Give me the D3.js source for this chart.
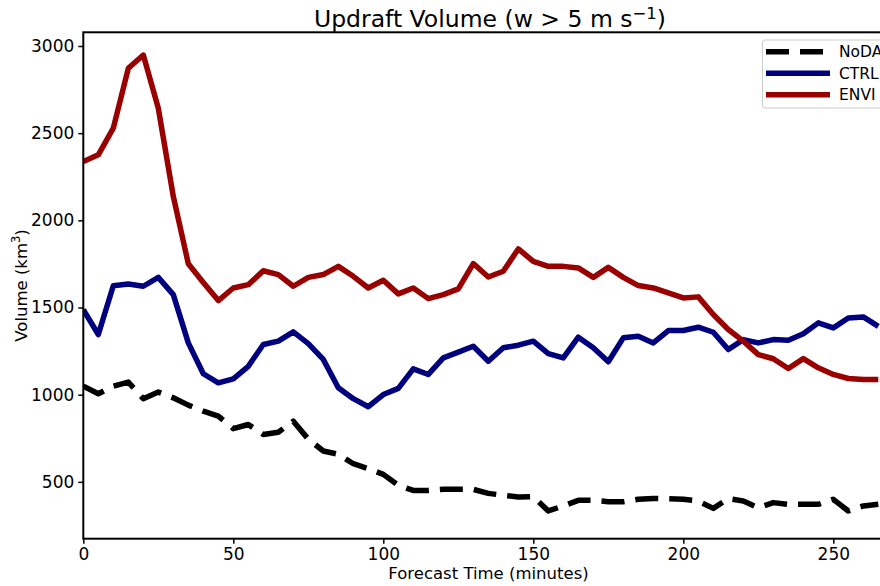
<!DOCTYPE html>
<html>
<head>
<meta charset="utf-8">
<script src="https://cdn.jsdelivr.net/npm/d3@7"></script>
<style>
	body{margin:0;background:#fff;}
	svg{display:block;font-family:'DejaVu Sans',sans-serif;}
</style>
</head>
<body>
<div id="chart"></div>
<script>

let times = [0,5,10,15,20,25,30,35,40,45,50,55,60,65,70,75,80,85,90,95,100,105,110,115,120,125,130,135,140,145,150,155,160,165,170,175,180,185,190,195,200,205,210,215,220,225,230,235,240,245,250,255,260,265]

let noda = [1049,1005,1049,1072,977,1015,982,940,906,877,805,829,772,785,848,745,677,658,604,576,543,480,451,451,457,457,457,434,423,413,415,333,362,394,394,386,386,400,405,403,400,390,348,404,390,352,381,371,371,371,400,333,362,371]

let ctrl = [1488,1345,1625,1635,1622,1673,1574,1297,1120,1068,1091,1163,1288,1307,1360,1293,1202,1040,977,931,1001,1036,1148,1116,1211,1244,1278,1192,1269,1284,1307,1236,1211,1330,1269,1189,1326,1335,1297,1368,1368,1387,1358,1259,1316,1297,1316,1312,1349,1412,1383,1440,1446,1392]

let envi = [2337,2376,2529,2872,2948,2643,2137,1751,1644,1540,1612,1631,1711,1689,1622,1673,1689,1736,1679,1612,1656,1578,1612,1551,1574,1607,1752,1675,1708,1836,1765,1736,1736,1727,1673,1730,1673,1626,1612,1584,1555,1561,1460,1374,1307,1230,1206,1150,1207,1154,1116,1093,1087,1087]

let xTicks = [0,50,100,150,200,250]
let yTicks = [500,1000,1500,2000,2500,3000]

let seriesNames = ['NoDA','CTRL','ENVI']
let seriesColours = ['#000000','#00007f','#990000']
let seriesDash = ['23,11',null,null]

function init(){
	let width = 880, height = 586
	let left = 83.3, top = 32.3, bottom = 538.7, right = 938.3

	let svg = d3.select('#chart').append('svg').attr('width',width).attr('height',height)

	let x = d3.scaleLinear().domain([0,285]).range([left,right])
	let y = d3.scaleLinear().domain([174,3078.5]).range([bottom,top])

	svg.append('clipPath').attr('id','plotclip')
		.append('rect').attr('x',left).attr('y',top).attr('width',right-left).attr('height',bottom-top)

	let allSeries = [noda,ctrl,envi]

	let line = d3.line()
		.x(function(d,i){return x(times[i])})
		.y(function(d){return y(d)})

	allSeries.forEach(function(s,i){
		svg.append('path')
			.datum(s)
			.attr('d',line)
			.attr('fill','none')
			.attr('stroke',seriesColours[i])
			.attr('stroke-width',5.5)
			.attr('stroke-linejoin','round')
			.attr('stroke-dasharray',seriesDash[i])
			.attr('clip-path','url(#plotclip)')
	})

	let xAxis = svg.append('g')
		.attr('transform','translate(0,'+bottom+')')
		.call(d3.axisBottom(x).tickValues(xTicks).tickFormat(d3.format('d')).tickSize(5).tickPadding(4).tickSizeOuter(0))
	let yAxis = svg.append('g')
		.attr('transform','translate('+left+',0)')
		.call(d3.axisLeft(y).tickValues(yTicks).tickFormat(d3.format('d')).tickSize(5).tickPadding(4).tickSizeOuter(0))

	;[xAxis,yAxis].forEach(function(a){
		a.select('.domain').remove()
		a.selectAll('line').attr('stroke','#000').attr('stroke-width',1.5)
		a.selectAll('text').attr('font-family','DejaVu Sans').attr('font-size',17).attr('fill','#000')
	})

	// frame
	svg.append('rect')
		.attr('x',left).attr('y',top).attr('width',right-left).attr('height',bottom-top)
		.attr('fill','none').attr('stroke','#000').attr('stroke-width',2)

	let title = svg.append('text')
		.attr('x',490).attr('y',26.5).attr('text-anchor','middle')
		.attr('font-size',23.5).attr('fill','#000')
	title.append('tspan').text('Updraft Volume (w > 5 m s')
	title.append('tspan').attr('font-size',16.5).attr('dy',-8).text('\u22121')
	title.append('tspan').attr('dy',8).text(')')

	svg.append('text')
		.attr('x',488.5).attr('y',579).attr('text-anchor','middle')
		.attr('font-size',16.5).attr('fill','#000')
		.text('Forecast Time (minutes)')

	let ylab = svg.append('text')
		.attr('transform','translate(27,'+((top+bottom)/2)+') rotate(-90)')
		.attr('text-anchor','middle')
		.attr('font-size',16.5).attr('fill','#000')
	ylab.append('tspan').text('Volume (km')
	ylab.append('tspan').attr('font-size',11.5).attr('dy',-7).text('3')
	ylab.append('tspan').attr('dy',7).text(')')

	drawLegend(svg)
}

function drawLegend(svg){
	let lg = svg.append('g')
	lg.append('rect')
		.attr('x',762.5).attr('y',40).attr('width',150).attr('height',68).attr('rx',3)
		.attr('fill','#fff').attr('fill-opacity',0.8).attr('stroke','#cccccc').attr('stroke-width',1)

	seriesNames.forEach(function(name,i){
		let yy = 51.7 + i*21.5
		lg.append('line')
			.attr('x1',766).attr('x2',830).attr('y1',yy).attr('y2',yy)
			.attr('stroke',seriesColours[i]).attr('stroke-width',5.5)
			.attr('stroke-dasharray',seriesDash[i])
		lg.append('text')
			.attr('x',839).attr('y',yy+5.5)
			.attr('font-size',15.5).attr('fill','#000')
			.text(name)
	})
}

init();
</script>
</body>
</html>
